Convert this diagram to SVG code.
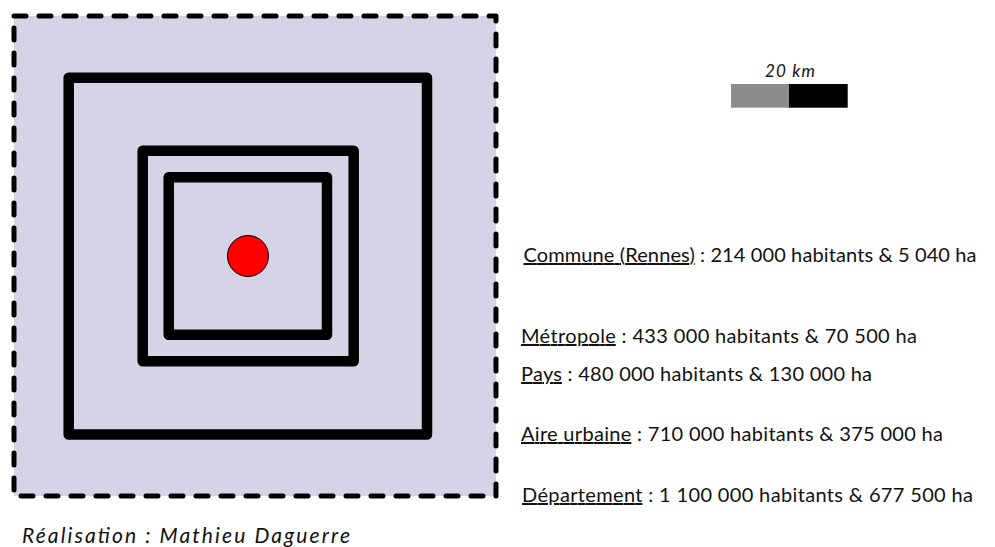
<svg xmlns="http://www.w3.org/2000/svg" width="995" height="547" viewBox="0 0 995 547">
<style>
.sq{fill:none;stroke:#000;stroke-width:10.5;stroke-linejoin:round}
.lbl{font-family:Lato,"Liberation Sans",sans-serif;font-size:20px;fill:#111}
.u{text-decoration:underline}
.it{font-family:Lato,"Liberation Sans",sans-serif;font-style:italic;fill:#111}
</style>
<rect width="995" height="547" fill="#fff"/>
<g id="departement">
<rect x="14" y="16" width="482" height="480" fill="#d6d3e6" stroke="#000" stroke-width="5" stroke-dasharray="12 13" stroke-linecap="round" stroke-linejoin="round"/>
</g>
<g id="aire-urbaine"><rect class="sq" x="68.7" y="77.8" width="358.3" height="356.7"/></g>
<g id="pays"><rect class="sq" x="142.7" y="150.8" width="211" height="210.5"/></g>
<g id="metropole"><rect class="sq" x="168.7" y="177.2" width="158.3" height="157.5"/></g>
<g id="commune"><circle cx="248" cy="256" r="20.5" fill="#ff0000" stroke="#000" stroke-width="1"/></g>
<g id="connectors"></g>
<g id="scale">
<text class="it" x="765" y="77.3" font-size="17" textLength="50" lengthAdjust="spacing">20 km</text>
<rect x="731" y="84" width="58" height="23.7" fill="#8c8c8c"/>
<rect x="789" y="84" width="58.7" height="23.7" fill="#000"/>
</g>
<g id="legend">
<text class="lbl" x="523.5" y="262" textLength="453" lengthAdjust="spacing"><tspan class="u">Commune (Rennes)</tspan> : 214 000 habitants &amp; 5 040 ha</text>
<text class="lbl" x="521" y="343" textLength="396" lengthAdjust="spacing"><tspan class="u">Métropole</tspan> : 433 000 habitants &amp; 70 500 ha</text>
<text class="lbl" x="521" y="381" textLength="351" lengthAdjust="spacing"><tspan class="u">Pays</tspan> : 480 000 habitants &amp; 130 000 ha</text>
<text class="lbl" x="521" y="441" textLength="422" lengthAdjust="spacing"><tspan class="u">Aire urbaine</tspan> : 710 000 habitants &amp; 375 000 ha</text>
<text class="lbl" x="522" y="502" textLength="451" lengthAdjust="spacing"><tspan class="u">Département</tspan> : 1 100 000 habitants &amp; 677 500 ha</text>
</g>
<text class="it" x="22" y="542.5" font-size="21" textLength="328" lengthAdjust="spacing">Réalisation : Mathieu Daguerre</text>
</svg>
